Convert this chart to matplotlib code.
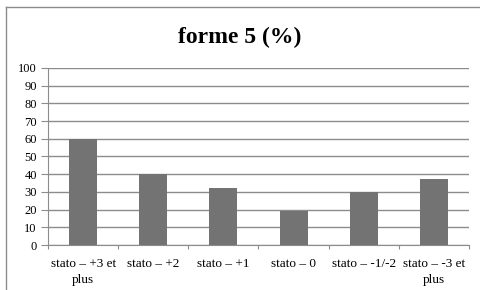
import matplotlib.pyplot as plt
from matplotlib.lines import Line2D

categories = ["stato \u2013 +3 et\nplus", "stato \u2013 +2", "stato \u2013 +1",
              "stato \u2013 0", "stato \u2013 -1/-2", "stato \u2013 -3 et\nplus"]
values = [60, 40, 32, 19, 30, 37]
yticks = list(range(0, 101, 10))

plt.rcParams['font.family'] = ['Liberation Serif', 'DejaVu Serif']

fig = plt.figure(figsize=(4.8, 2.9), dpi=100)
ax = fig.add_axes([0.1, 0.155, 0.877, 0.611])

# chart border (only left and top visible in the crop)
fig.lines.append(Line2D([0.0125, 0.0125], [0.0, 0.976], transform=fig.transFigure,
                        color='#8c8c8c', linewidth=1.0))
fig.lines.append(Line2D([0.0125, 1.0], [0.976, 0.976], transform=fig.transFigure,
                        color='#8c8c8c', linewidth=1.0))

x = range(len(categories))
ax.bar(x, values, width=0.4, color='#737373', zorder=3)

ax.set_xlim(-0.5, len(categories) - 0.5)
ax.set_ylim(0, 100)
ax.set_yticks(yticks)
ax.yaxis.grid(True, color='#8c8c8c', linewidth=1.0, zorder=0)
ax.set_axisbelow(True)

ax.set_xticks([i + 0.5 for i in range(-1, len(categories))])
ax.set_xticklabels([])
ax.set_xticks(list(x), minor=True)
ax.set_xticklabels(categories, minor=True, fontsize=9.5, linespacing=1.5)
ax.tick_params(axis='x', which='minor', length=0, pad=9)
ax.tick_params(axis='x', which='major', length=3, color='#8c8c8c', direction='out')
ax.tick_params(axis='y', length=5, color='#8c8c8c', labelsize=9, pad=3)

for s in ['top', 'right']:
    ax.spines[s].set_visible(False)
for s in ['left', 'bottom']:
    ax.spines[s].set_color('#8c8c8c')

fig.text(0.5, 0.87, "forme 5 (%)", ha='center', va='center', fontsize=17, fontweight='bold')

fig.savefig("out.png", dpi=100)
